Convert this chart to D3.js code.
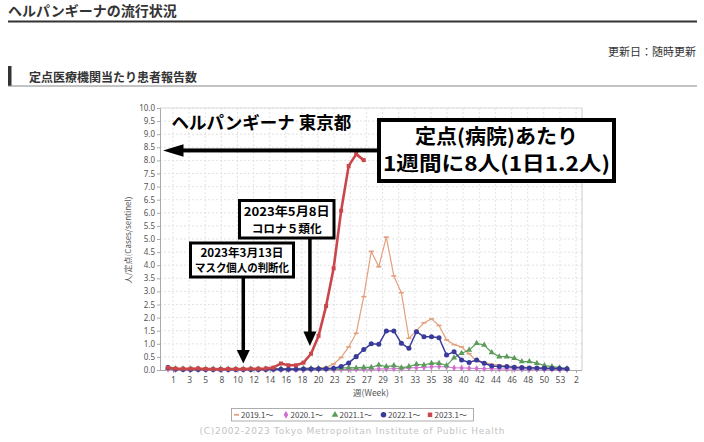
<!DOCTYPE html>
<html><head><meta charset="utf-8">
<script src="https://cdn.jsdelivr.net/npm/d3@7/dist/d3.min.js"></script>
<style>html,body{margin:0;padding:0;background:#fff;}svg{display:block;}</style>
</head><body>
<svg id="c" width="704" height="442"></svg>
<script>
// ---- data ----
const weeks = [1,2,3,4,5,6,7,8,9,10,11,12,13,14,15,16,17,18,19,20,21,22,23,24,25,26,27,28,29,30,31,32,33,34,35,36,37,38,39,40,41,42,43,44,45,46,47,48,49,50,51,52,53,54];
const tickLabels = ["1","3","5","8","10","12","14","16","18","20","23","25","27","29","31","33","35","38","40","42","44","46","48","50","53","2"];
const yTicks = [0,0.5,1,1.5,2,2.5,3,3.5,4,4.5,5,5.5,6,6.5,7,7.5,8,8.5,9,9.5,10];
const seriesNames = ["2019.1～","2020.1～","2021.1～","2022.1～","2023.1～"];
const s2019 = [0.03,0.02,0.02,0.02,0.02,0.02,0.01,0.02,0.02,0.02,0.02,0.02,0.02,0.03,0.03,0.04,0.05,0.05,0.06,0.07,0.08,0.10,
  0.23,0.48,0.88,1.40,2.80,4.53,3.94,5.07,3.59,2.95,1.21,1.50,1.80,1.95,1.70,1.15,0.97,0.88,0.62,0.33,
  0.29,0.22,0.19,0.15,0.13,0.11,0.10,0.08,0.07,0.06,0.05,0.05];
const s2020 = [0.03,0.02,0.02,0.01,0.01,0.01,0.01,0.01,0.01,0.01,0.01,0.01,0.01,0.01,0.01,0.01,0.01,0.01,0.01,0.01,0.02,0.02,
  0.02,0.02,0.02,0.03,0.03,0.03,0.04,0.04,0.05,0.06,0.08,0.09,0.10,0.12,0.13,0.12,0.08,0.08,0.07,0.06,
  0.05,0.05,0.04,0.04,0.04,0.03,0.03,0.03,0.03,0.03,0.02,0.02];
const s2021 = [0.08,0.06,0.05,0.05,0.05,0.04,0.04,0.04,0.04,0.04,0.04,0.04,0.04,0.05,0.05,0.05,0.05,0.05,0.06,0.06,0.06,0.06,
  0.06,0.07,0.09,0.08,0.10,0.10,0.19,0.13,0.17,0.09,0.13,0.22,0.19,0.26,0.26,0.17,0.47,0.64,0.76,1.02,
  0.95,0.67,0.51,0.51,0.45,0.32,0.32,0.26,0.17,0.13,0.09,0.06];
const s2022 = [0.09,0.03,0.02,0.02,0.02,0.02,0.02,0.02,0.02,0.02,0.02,0.02,0.02,0.02,0.03,0.03,0.03,0.03,0.04,0.04,0.05,0.05,
  0.07,0.13,0.27,0.51,0.78,1.00,0.98,1.49,1.49,1.02,0.83,1.46,1.27,1.27,1.23,0.57,0.70,0.38,0.29,0.38,
  0.26,0.15,0.13,0.13,0.10,0.09,0.08,0.08,0.07,0.06,0.06,0.05];
const s2023 = [0.09,0.05,0.05,0.05,0.06,0.04,0.04,0.03,0.04,0.04,0.04,0.05,0.05,0.06,0.09,0.25,0.18,0.18,0.28,0.62,1.30,2.44,
  3.88,6.08,7.79,8.24,8.01];

const svg = d3.select("#c");
svg.append("rect").attr("width",704).attr("height",442).attr("fill","#fff");

const jp = "'Noto Sans CJK JP','Noto Sans',sans-serif";

// ---- page header ----
svg.append("text").attr("x",8).attr("y",15.5).attr("font-family",jp).attr("font-weight","bold")
  .attr("font-size",14).attr("fill","#333").text("ヘルパンギーナの流行状況");
svg.append("rect").attr("x",8).attr("y",20.5).attr("width",689).attr("height",2).attr("fill","#333");
svg.append("text").attr("x",696).attr("y",56).attr("text-anchor","end").attr("font-family",jp)
  .attr("font-size",11).attr("fill","#333").text("更新日：随時更新");
svg.append("rect").attr("x",8).attr("y",66).attr("width",3.5).attr("height",20).attr("fill","#333");
svg.append("text").attr("x",29).attr("y",81.5).attr("font-family",jp).attr("font-weight","bold")
  .attr("font-size",12).attr("fill","#333").text("定点医療機関当たり患者報告数");
svg.append("rect").attr("x",8).attr("y",85.5).attr("width",689).attr("height",1).attr("fill","#888");

// ---- scales ----
const plot = {l:160, r:582, t:108, b:370};
const x = d3.scaleLinear().domain([0, weeks.length-1]).range([168, 567]);
const xl = d3.scalePoint().domain(tickLabels).range([173, 576]);
const y = d3.scaleLinear().domain([0,10]).range([plot.b, plot.t]);

// grid
const g = svg.append("g");
g.selectAll(".hg").data(yTicks.slice(1)).join("line")
  .attr("x1",plot.l).attr("x2",plot.r).attr("y1",d=>y(d)).attr("y2",d=>y(d))
  .attr("stroke","#dcdcdc").attr("stroke-width",0.8).attr("stroke-dasharray","2,2");
g.selectAll(".vg").data(tickLabels).join("line")
  .attr("x1",d=>xl(d)).attr("x2",d=>xl(d)).attr("y1",plot.t).attr("y2",plot.b)
  .attr("stroke","#dcdcdc").attr("stroke-width",0.8).attr("stroke-dasharray","2,2");
g.append("line").attr("x1",plot.r).attr("x2",plot.r).attr("y1",plot.t).attr("y2",plot.b).attr("stroke","#ccc");
g.append("line").attr("x1",plot.l).attr("x2",plot.r).attr("y1",plot.t).attr("y2",plot.t).attr("stroke","#ddd");

// axes
const yAxis = d3.axisLeft(y).tickValues(yTicks).tickFormat(d3.format(".1f")).tickSize(3).tickPadding(2);
const ya = svg.append("g").attr("transform",`translate(${plot.l},0)`).call(yAxis);
ya.select(".domain").attr("stroke","#aaa");
ya.selectAll(".tick line").attr("stroke","#aaa");
ya.selectAll("text").attr("font-family","'Noto Sans',sans-serif").attr("font-size",8).attr("fill","#555");

const xAxis = d3.axisBottom(xl).tickSize(3).tickPadding(4);
const xa = svg.append("g").attr("transform",`translate(0,${plot.b})`).call(xAxis);
xa.select(".domain").attr("d",`M${plot.l},0.5H${plot.r}`).attr("stroke","#aaa");
xa.selectAll(".tick line").attr("stroke","#aaa");
xa.selectAll("text").attr("font-family","'Noto Sans',sans-serif").attr("font-size",8.5).attr("fill","#555");

svg.append("text").attr("x",371).attr("y",396).attr("text-anchor","middle").attr("font-family",jp)
  .attr("font-size",8.5).attr("fill","#555").text("週(Week)");
svg.append("text").attr("transform","translate(131,240) rotate(-90)").attr("text-anchor","middle")
  .attr("font-family",jp).attr("font-size",8).attr("fill","#555").text("人/定点(Cases/sentinel)");

// ---- series ----
const series = [
  {name:seriesNames[0], data:s2019, color:"#e3a07c", w:1.2, sym:"dash"},
  {name:seriesNames[1], data:s2020, color:"#cf6fcf", w:1.0, sym:d3.symbolDiamond, size:14},
  {name:seriesNames[2], data:s2021, color:"#5b9c5b", w:1.2, sym:d3.symbolTriangle, size:16},
  {name:seriesNames[3], data:s2022, color:"#3a3a9a", w:1.5, sym:d3.symbolCircle, size:20},
  {name:seriesNames[4], data:s2023, color:"#c9474a", w:2.6, sym:d3.symbolSquare, size:16}
];
const line = d3.line().x((d,i)=>x(i)).y(d=>y(d));
series.forEach(s=>{
  const sg = svg.append("g");
  sg.append("path").attr("d",line(s.data)).attr("fill","none").attr("stroke",s.color)
    .attr("stroke-width",s.w).attr("stroke-linejoin","round");
  if (s.sym==="dash") {
    sg.selectAll("rect").data(s.data).join("rect")
      .attr("x",(d,i)=>x(i)-2.5).attr("y",d=>y(d)-0.8).attr("width",5).attr("height",1.6).attr("fill",s.color);
  } else {
    const sym = d3.symbol().type(s.sym).size(s.size);
    sg.selectAll("path.m").data(s.data).join("path").attr("class","m")
      .attr("transform",(d,i)=>`translate(${x(i)},${y(d)})`).attr("d",sym).attr("fill",s.color);
  }
});

// ---- legend ----
const lg = svg.append("g");
lg.append("rect").attr("x",231.5).attr("y",408.5).attr("width",242).attr("height",12.5)
  .attr("fill","#fff").attr("stroke","#999").attr("stroke-width",0.8);
const legX = [236.5, 286, 335, 383.5, 430];
series.forEach((s,i)=>{
  const cx = legX[i], cy = 414.8;
  if (s.sym==="dash") {
    lg.append("rect").attr("x",cx-2.5).attr("y",cy-0.9).attr("width",5).attr("height",1.8).attr("fill",s.color);
  } else {
    lg.append("path").attr("transform",`translate(${cx},${cy})`).attr("d",d3.symbol().type(s.sym).size(s.size+4)).attr("fill",s.color);
  }
  lg.append("text").attr("x",cx+4.5).attr("y",cy+3).attr("font-family",jp).attr("font-size",8)
    .attr("fill","#444").text(s.name);
});

svg.append("text").attr("x",352).attr("y",433.5).attr("text-anchor","middle")
  .attr("font-family","'DejaVu Sans',sans-serif").attr("font-size",9).attr("fill","#c4c4c4")
  .attr("textLength",305).attr("lengthAdjust","spacing")
  .text("(C)2002-2023 Tokyo Metropolitan Institute of Public Health");

// ---- annotations ----
const an = svg.append("g");
an.append("text").attr("x",171.5).attr("y",128.5).attr("font-family",jp).attr("font-weight","bold")
  .attr("font-size",17.5).attr("fill","#000").text("ヘルパンギーナ 東京都");

// horizontal arrow to the left
const hy = y(8.38);
an.append("rect").attr("x",178).attr("y",hy-2).attr("width",200).attr("height",4).attr("fill","#000");
an.append("path").attr("d",`M163,${hy}L183.5,${hy-6.3}L183.5,${hy+6.3}Z`).attr("fill","#000");

// big box
an.append("rect").attr("x",379).attr("y",120).attr("width",235).attr("height",61)
  .attr("fill","#fff").attr("stroke","#000").attr("stroke-width",4);
an.append("text").attr("x",496.5).attr("y",143.5).attr("text-anchor","middle").attr("font-family",jp)
  .attr("font-weight","bold").attr("font-size",20).attr("fill","#000")
  .attr("textLength",163).attr("lengthAdjust","spacingAndGlyphs").text("定点(病院)あたり");
an.append("text").attr("x",496.5).attr("y",170.5).attr("text-anchor","middle").attr("font-family",jp)
  .attr("font-weight","bold").attr("font-size",20).attr("fill","#000")
  .attr("textLength",227).attr("lengthAdjust","spacingAndGlyphs").text("1週間に8人(1日1.2人)");

// arrow: 5/8 (week 19)
const ax1 = x(18.85);
an.append("rect").attr("x",ax1-1.75).attr("y",239).attr("width",3.5).attr("height",94).attr("fill","#000");
an.append("path").attr("d",`M${ax1},${y(0.92)}L${ax1-6.5},${y(0.92)-14.5}L${ax1+6.5},${y(0.92)-14.5}Z`).attr("fill","#000");
an.append("rect").attr("x",239.5).attr("y",200.5).attr("width",94.5).attr("height",37.5)
  .attr("fill","#fff").attr("stroke","#000").attr("stroke-width",3);
an.append("text").attr("x",286.7).attr("y",215.5).attr("text-anchor","middle").attr("font-family",jp)
  .attr("font-weight","bold").attr("font-size",12).attr("fill","#000")
  .attr("textLength",86).attr("lengthAdjust","spacingAndGlyphs").text("2023年5月8日");
an.append("text").attr("x",286.7).attr("y",232.5).attr("text-anchor","middle").attr("font-family",jp)
  .attr("font-weight","bold").attr("font-size",11.5).attr("fill","#000")
  .attr("textLength",70).attr("lengthAdjust","spacingAndGlyphs").text("コロナ５類化");

// arrow: 3/13 (week 11)
const ax2 = x(10);
an.append("rect").attr("x",ax2-1.75).attr("y",278).attr("width",3.5).attr("height",74).attr("fill","#000");
an.append("path").attr("d",`M${ax2},${y(0.25)}L${ax2-6.5},${y(0.25)-13.5}L${ax2+6.5},${y(0.25)-13.5}Z`).attr("fill","#000");
an.append("rect").attr("x",190.5).attr("y",243).attr("width",103).attr("height",34)
  .attr("fill","#fff").attr("stroke","#000").attr("stroke-width",3);
an.append("text").attr("x",242).attr("y",256.8).attr("text-anchor","middle").attr("font-family",jp)
  .attr("font-weight","bold").attr("font-size",11.5).attr("fill","#000")
  .attr("textLength",83).attr("lengthAdjust","spacingAndGlyphs").text("2023年3月13日");
an.append("text").attr("x",242).attr("y",272.3).attr("text-anchor","middle").attr("font-family",jp)
  .attr("font-weight","bold").attr("font-size",11).attr("fill","#000")
  .attr("textLength",94).attr("lengthAdjust","spacingAndGlyphs").text("マスク個人の判断化");
</script>
</body></html>
